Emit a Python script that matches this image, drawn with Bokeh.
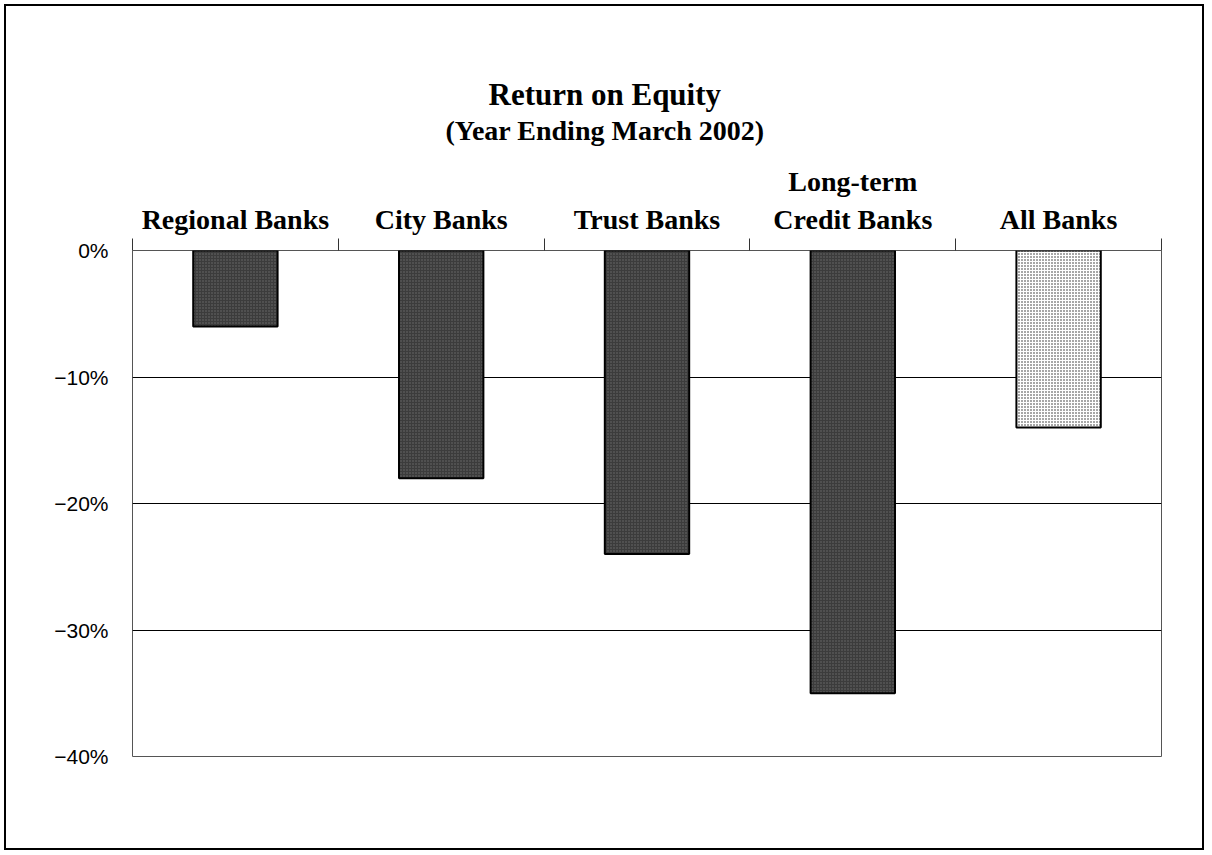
from bokeh.plotting import figure
from bokeh.models import (Range1d, LinearAxis, FixedTicker, Title,
                          InlineStyleSheet, Grid)
from bokeh.embed import file_html
from bokeh.resources import INLINE

categories = ["Regional Banks", "City Banks", "Trust Banks",
              "Long-term\nCredit Banks", "All Banks"]
roe = [-6, -18, -24, -35, -14]
y_ticks = [0, -10, -20, -30, -40]
y_tick_labels = ["0%", "\u221210%", "\u221220%", "\u221230%", "\u221240%"]
title_text = "Return on Equity"
subtitle_text = "(Year Ending March 2002)"

n = len(categories)
centers = [i + 0.5 for i in range(n)]
edges = list(range(n + 1))

W, H = 1200, 846
p = figure(width=W, height=H, x_range=Range1d(0, n),
           y_range=Range1d(-40, 0), output_backend="svg",
           toolbar_location=None, x_axis_location=None, y_axis_location=None,
           title=None,
           min_border_left=126, min_border_right=45,
           min_border_top=244, min_border_bottom=96)
p.xgrid.visible = False
p.ygrid.visible = False
p.outline_line_color = "#555555"
p.outline_line_width = 1
p.background_fill_color = "white"
p.border_fill_color = "white"

grid = Grid(dimension=1, ticker=FixedTicker(ticks=y_ticks[1:-1]),
            grid_line_color="black", grid_line_width=1)
p.add_layout(grid)

# bars
p.vbar(x=centers[:4], top=0, bottom=roe[:4], width=0.41,
       fill_color="#3c3c3c", line_color="black", line_width=2,
       hatch_pattern="dot", hatch_color="#6e6e6e", hatch_scale=3,
       hatch_weight=1)
p.vbar(x=centers[4:], top=0, bottom=roe[4:], width=0.41,
       fill_color="white", line_color="black", line_width=2,
       hatch_pattern="dot", hatch_color="#222222", hatch_scale=3,
       hatch_weight=1)

# y axis
yaxis = LinearAxis(ticker=FixedTicker(ticks=y_ticks),
                   major_label_overrides=dict(zip(y_ticks, y_tick_labels)),
                   major_tick_line_color=None, minor_tick_line_color=None,
                   axis_line_color=None,
                   major_label_text_font="Liberation Sans",
                   major_label_text_font_size="21px",
                   major_label_text_color="black",
                   major_label_standoff=18)
p.add_layout(yaxis, "left")

# category axis on top: labels at centres, tick marks at boundaries
cat_axis = LinearAxis(ticker=FixedTicker(ticks=centers, minor_ticks=edges),
                      major_label_overrides=dict(zip(centers, categories)),
                      major_tick_line_color=None,
                      major_tick_in=0, major_tick_out=0,
                      minor_tick_in=0, minor_tick_out=12,
                      minor_tick_line_color="#333333",
                      axis_line_color=None,
                      major_label_text_font="Liberation Serif",
                      major_label_text_font_style="bold",
                      major_label_text_font_size="28px",
                      major_label_text_color="black",
                      major_label_standoff=4)
p.add_layout(cat_axis, "above")

p.add_layout(Title(text=subtitle_text, align="left", offset=313,
                   text_font="Liberation Serif", text_font_style="bold",
                   text_font_size="28px", text_color="black",
                   standoff=36), "above")
p.add_layout(Title(text=title_text, align="left", offset=356,
                   text_font="Liberation Serif", text_font_style="bold",
                   text_font_size="31px", text_color="black",
                   standoff=-34), "above")

p.stylesheets = [InlineStyleSheet(
    css=":host { border: 2px solid black; margin: 4px 0 0 4px; }")]

open("out.html", "w").write(file_html(p, INLINE))
